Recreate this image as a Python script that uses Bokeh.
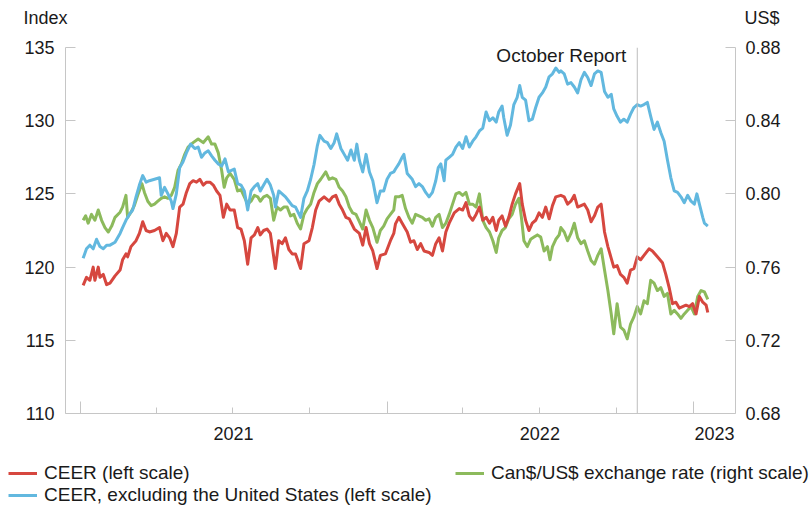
import pandas as pd
from bokeh.plotting import figure
from bokeh.layouts import column
from bokeh.models import (ColumnDataSource, Range1d, LinearAxis, FixedTicker, Span, Label,
                          Legend, LegendItem, NumeralTickFormatter)
from bokeh.embed import file_html
from bokeh.resources import INLINE

# ---------------- data ----------------
BASE = "2021-01-01"   # day offsets below are days after this date

ceer_days = [3, 7, 11, 15, 17, 21, 23, 27, 31, 35, 41, 47, 50, 54, 56, 60, 66, 70, 74, 78, 82, 88, 94, 98, 102,
             106, 110, 114, 118, 122, 126, 130, 134, 138, 142, 146, 150, 154, 158, 162, 166, 170, 174, 178,
             183, 187, 191, 195, 199, 203, 207, 211, 214, 218, 222, 226, 232, 236, 240, 244, 248, 252, 256, 262,
             266, 272, 276, 280, 284, 290, 296, 300, 304, 308, 312, 316, 320, 326, 332, 336, 340, 344, 348, 353,
             357, 363, 369, 373,
             375, 379, 383, 389, 393, 397, 401, 405, 409, 415, 419, 423, 427, 431, 435, 439, 445, 451, 455, 459,
             463, 467, 471, 475, 479, 483, 487, 491, 495, 498, 502, 506, 510, 514, 518, 523, 526, 530, 534, 538,
             542, 546, 550, 554, 558, 562, 566,
             572, 576, 580, 584, 588, 592, 596, 600, 604, 608, 612, 616, 620, 624, 628, 632, 635, 639, 643, 647,
             651, 655, 659, 663, 667, 671, 677, 681, 687, 693, 697, 701, 705, 709, 713, 717, 721, 725, 729, 733,
             737, 741, 745, 747]
ceer_vals = [118.75, 119.3, 119.1, 120.0, 119.1, 120.0, 119.3, 119.5, 118.8, 118.9, 119.4, 119.8, 120.5, 120.9,
             120.7, 121.4, 121.8, 122.3, 123.1, 122.5, 122.4, 122.5, 122.7, 121.8, 122.3, 122.0, 121.4, 122.3,
             124.1, 124.3, 125.1, 125.7, 125.9, 125.8, 126.0, 125.6, 125.8, 125.8, 125.6, 125.2, 124.9, 123.4,
             124.3, 123.9,
             123.9, 122.7, 122.6, 121.8, 120.2, 122.0, 122.2, 122.7, 122.2, 122.5, 122.6, 122.3, 119.9, 121.8,
             121.6, 122.0, 121.2, 120.9, 120.9, 119.9, 121.6, 121.8, 122.7, 123.9, 124.5, 124.8, 124.5, 124.8,
             124.9, 124.3, 123.9, 123.4, 123.3, 122.6, 122.3, 121.5, 122.7, 121.6, 121.1, 119.9, 120.8, 120.9,
             121.8, 122.3,
             122.95, 123.4, 123.0, 122.4, 121.7, 121.8, 121.2, 121.6, 121.1, 121.0, 120.8, 121.6, 122.0, 121.1,
             122.4, 123.0, 123.7, 124.0, 123.9, 124.4, 123.5, 123.2, 123.6, 124.1, 123.2, 123.4, 123.0, 123.4,
             122.5, 123.2, 123.5, 122.8, 123.4, 124.3, 125.0, 125.7, 124.3, 123.2, 122.5, 123.0, 123.2, 123.7,
             123.4, 124.1, 123.3, 124.2, 124.8,
             124.9, 124.8, 124.3, 124.5, 124.9, 124.1, 124.2, 124.3, 123.9, 123.1, 123.5, 124.1, 124.3, 122.4,
             121.4, 120.6, 120.0, 120.1, 119.5, 119.3, 118.9, 119.8, 119.9, 120.7, 120.5, 120.8, 121.25, 121.1,
             120.7, 120.3, 119.5, 118.6, 117.5, 117.6, 117.2, 117.3, 117.4, 117.3, 117.5, 116.8, 118.0, 117.6,
             117.4, 116.9]

exus_days = [3, 7, 11, 15, 19, 23, 27, 31, 35, 41, 47, 50, 54, 58, 62, 66, 70, 74, 78, 82, 88, 94, 96, 100, 104,
             108, 110, 114, 118, 122, 126, 131, 136, 140, 144, 148, 152, 156, 160, 164, 168, 172, 176,
             183, 187, 191, 195, 199, 203, 207, 211, 214, 218, 222, 226, 230, 232, 236, 240, 244, 248, 252, 256,
             262, 266, 270, 274, 278, 282, 285, 290, 294, 298, 302, 305, 310, 314, 318, 322, 326, 329, 332, 336,
             340, 344, 348, 351, 353, 357, 361, 365, 369, 373,
             375, 379, 383, 385, 389, 395, 399, 403, 407, 411, 415, 419, 423, 426, 429, 433, 435, 439, 443, 447,
             451, 455, 459, 463, 467, 471, 475, 479, 483, 487, 491, 495, 498, 502, 504, 508, 512, 516, 520, 523,
             526, 530, 534, 538, 542, 546, 550, 554, 558, 562, 566, 570,
             572, 576, 580, 584, 588, 592, 596, 600, 604, 608, 612, 616, 620, 624, 628, 632, 635, 639, 643, 647,
             651, 655, 659, 663, 667, 671, 675, 679, 683, 687, 691, 695, 699, 703, 707, 711, 715, 719, 723, 727,
             731, 734, 737, 741, 743, 747]
exus_vals = [120.6, 121.25, 121.5, 121.25, 121.9, 121.4, 121.25, 121.5, 121.5, 121.7, 122.3, 122.7, 123.2, 123.6,
             123.9, 124.8, 125.6, 126.25, 125.8, 125.9, 126.0, 126.1, 124.9, 125.45, 125.0, 124.5, 124.0, 125.0,
             126.8, 127.2, 127.8, 128.4, 128.1, 128.2, 127.5, 127.8, 127.95, 127.6, 127.3, 127.05, 126.9, 127.4,
             126.5,
             126.7, 125.7, 125.6, 125.2, 123.9, 125.2, 125.5, 125.7, 125.2, 125.6, 126.0, 125.6, 124.9, 124.1,
             125.2, 125.0, 124.8, 124.5, 124.2, 124.1, 123.4, 124.7, 125.2, 126.0, 127.0, 128.3, 129.0, 128.6,
             128.5, 128.1, 128.5, 129.1, 128.1, 127.7, 127.3, 128.0, 127.3, 128.4, 127.3, 126.5, 127.7, 126.5,
             125.9, 125.0, 124.4, 125.2, 125.2, 126.0, 126.4, 126.5,
             126.7, 127.05, 127.5, 127.7, 126.4, 126.0, 125.5, 125.7, 125.5, 125.1, 124.8, 125.1, 125.9, 126.8,
             127.05, 125.9, 127.3, 127.5, 127.7, 128.2, 128.5, 128.1, 128.9, 128.2, 128.6, 128.9, 129.3, 129.5,
             130.6, 130.0, 130.2, 129.9, 130.6, 131.0, 130.2, 129.0, 129.7, 131.1, 131.6, 132.4, 131.6, 131.4,
             130.0, 130.1, 130.9, 131.6, 131.9, 132.3, 133.0, 133.2, 133.6, 133.3,
             133.4, 133.2, 132.5, 132.6, 132.3, 131.9, 132.8, 133.3, 132.95, 132.4, 133.2, 133.4, 133.3, 132.0,
             131.6, 131.8, 130.8, 130.3, 129.9, 130.1, 129.9, 130.45, 130.9, 131.1, 131.0, 131.1, 131.25, 130.3,
             129.4, 129.9, 129.2, 128.6, 127.3, 126.1, 125.2, 125.1, 124.8, 124.4, 124.9, 124.5, 124.3, 125.0,
             124.3, 123.4, 123.0, 122.8]

cad_days = [3, 6, 9, 13, 17, 21, 25, 29, 33, 37, 41, 47, 50, 54, 56, 60, 64, 68, 73, 76, 80, 84, 88, 92, 96, 100,
            104, 108, 112, 116, 120, 124, 128, 134, 140, 146, 152, 156, 160, 164, 168, 171, 174, 178,
            183, 187, 191, 195, 199, 203, 207, 211, 214, 218, 222, 226, 230, 234, 238, 242, 246, 250, 254, 258,
            262, 266, 270, 274, 278, 282, 286, 292, 296, 300, 304, 308, 312, 316, 320, 324, 328, 332, 336, 340,
            344, 348, 353, 357, 361, 365, 369, 373,
            375, 379, 383, 387, 391, 395, 399, 403, 407, 411, 415, 419, 423, 427, 431, 435, 439, 443, 447, 451,
            455, 459, 463, 467, 471, 475, 479, 483, 487, 491, 495, 498, 502, 506, 510, 514, 518, 522, 525, 528,
            532, 536, 540, 544, 548, 552, 556, 559, 562, 566, 570,
            572, 576, 580, 584, 588, 592, 596, 600, 604, 608, 612, 616, 620, 624, 628, 632, 635, 639, 643, 647,
            651, 655, 659, 663, 667, 671, 675, 679, 683, 687, 691, 695, 699, 703, 707, 711, 715, 719, 723, 727,
            731, 735, 739, 743, 747]
cad_vals = [0.7856, 0.7880, 0.7840, 0.7888, 0.7856, 0.7912, 0.7856, 0.7816, 0.7792, 0.7824, 0.7872, 0.7900,
            0.7928, 0.7992, 0.7872, 0.7900, 0.7936, 0.7992, 0.8056, 0.8008, 0.7960, 0.7936, 0.7944, 0.7960,
            0.7976, 0.7984, 0.7976, 0.7992, 0.8036, 0.8128, 0.8164, 0.8216, 0.8256, 0.8280, 0.8300, 0.8280,
            0.8312, 0.8272, 0.8272, 0.8224, 0.8128, 0.8036, 0.8088, 0.8112,
            0.8080, 0.8016, 0.8024, 0.7984, 0.7944, 0.7960, 0.7992, 0.7984, 0.7960, 0.7984, 0.7992, 0.7976,
            0.7856, 0.7928, 0.7912, 0.7928, 0.7928, 0.7880, 0.7888, 0.7840, 0.7808, 0.7888, 0.7920, 0.7944,
            0.8008, 0.8056, 0.8080, 0.8120, 0.8080, 0.8088, 0.8080, 0.8036, 0.8016, 0.7984, 0.7928, 0.7896,
            0.7888, 0.7848, 0.7808, 0.7912, 0.7856, 0.7816, 0.7736, 0.7800, 0.7824, 0.7864, 0.7888, 0.7912,
            0.7984, 0.7984, 0.7992, 0.7920, 0.7872, 0.7840, 0.7888, 0.7880, 0.7872, 0.7856, 0.7864, 0.7824,
            0.7872, 0.7888, 0.7816, 0.7840, 0.7888, 0.7944, 0.8000, 0.8008, 0.7992, 0.8008, 0.7944, 0.7944,
            0.7928, 0.8000, 0.7856, 0.7816, 0.7792, 0.7744, 0.7680, 0.7760, 0.7800, 0.7816, 0.7864, 0.7888,
            0.7944, 0.7976, 0.7872, 0.7744, 0.7712, 0.7752, 0.7764, 0.7776, 0.7764, 0.7688, 0.7712, 0.7640,
            0.7712, 0.7752, 0.7776,
            0.7816, 0.7792, 0.7744, 0.7784, 0.7840, 0.7760, 0.7728, 0.7744, 0.7688, 0.7636, 0.7616, 0.7664,
            0.7700, 0.7584, 0.7472, 0.7344, 0.7236, 0.7400, 0.7272, 0.7256, 0.7208, 0.7288, 0.7328, 0.7384,
            0.7344, 0.7416, 0.7400, 0.7528, 0.7512, 0.7472, 0.7488, 0.7440, 0.7456, 0.7344, 0.7364, 0.7344,
            0.7320, 0.7344, 0.7364, 0.7384, 0.7344, 0.7440, 0.7472, 0.7464, 0.7424]

left_ticks = [110, 115, 120, 125, 130, 135]
right_ticks = [0.68, 0.72, 0.76, 0.80, 0.84, 0.88]
year_ticks = ["2021-01-01", "2022-01-01", "2023-01-01"]
quarter_ticks = ["2021-04-01", "2021-07-01", "2021-10-01", "2022-04-01", "2022-07-01", "2022-10-01"]
year_labels = {"2021-07-02": "2021", "2022-07-02": "2022", "2023-01-26": "2023"}
report_date = "2022-10-26"
x_start, x_end = "2020-12-14", "2023-02-20"
series_names = ["CEER (left scale)", "CEER, excluding the United States (left scale)",
                "Can$/US$ exchange rate (right scale)"]

# ---------------- styling ----------------
FONT = "Liberation Sans"
RED, BLUE, GREEN = "#d6473f", "#62b8df", "#8cba5c"
AXIS_GREY = "#c6c6c6"
TXT = "#1a1a1a"
W = 812
NAN = float("nan")


def ms(d):
    return int(pd.Timestamp(d).value // 10**6)


def to_dt(days):
    return pd.Timestamp(BASE) + pd.to_timedelta(days, unit="D")


def blank_fig(h):
    f = figure(width=W, height=h, output_backend="svg", toolbar_location=None,
               x_axis_type=None, y_axis_type=None, x_range=Range1d(0, W), y_range=Range1d(h, 0),
               min_border=0, frame_align=False)
    f.outline_line_color = None
    f.xgrid.visible = False
    f.ygrid.visible = False
    return f


# ---- top strip: unit titles ----
top = blank_fig(30)
top.add_layout(Label(x=67, y=17, text="Index", text_align="right", text_baseline="middle",
                     text_font=FONT, text_font_size="18px", text_color=TXT))
top.add_layout(Label(x=744, y=17, text="US$", text_align="left", text_baseline="middle",
                     text_font=FONT, text_font_size="18px", text_color=TXT))

# ---- main chart ----
p = figure(width=W, height=420, output_backend="svg", toolbar_location=None,
           x_axis_type=None, y_axis_type=None, frame_align=False,
           x_range=Range1d(ms(x_start), ms(x_end)), y_range=Range1d(110, 135),
           min_border_left=65, min_border_right=77, min_border_top=17, min_border_bottom=37)
p.extra_y_ranges = {"usd": Range1d(0.68, 0.88)}
p.outline_line_color = None
p.xgrid.visible = False
p.ygrid.visible = False


def style_axis(ax):
    ax.axis_line_color = AXIS_GREY
    ax.axis_line_width = 1
    ax.major_tick_line_color = AXIS_GREY
    ax.minor_tick_line_color = AXIS_GREY
    ax.major_tick_out = 0
    ax.minor_tick_out = 0
    ax.major_label_text_font = FONT
    ax.major_label_text_font_size = "18px"
    ax.major_label_text_color = TXT


yl = LinearAxis(ticker=FixedTicker(ticks=left_ticks))
style_axis(yl)
yl.major_tick_in = 10
yl.major_label_standoff = 11
p.add_layout(yl, "left")

yr = LinearAxis(y_range_name="usd", ticker=FixedTicker(ticks=right_ticks),
                formatter=NumeralTickFormatter(format="0.00"))
style_axis(yr)
yr.major_tick_in = 10
yr.major_label_standoff = 10
p.add_layout(yr, "right")

# bottom axis line with the (long) year ticks; it has no major ticks, hence no labels
xt = LinearAxis(ticker=FixedTicker(ticks=[], minor_ticks=[ms(d) for d in year_ticks]))
style_axis(xt)
xt.minor_tick_in = 12
xt.major_label_standoff = 0
p.add_layout(xt, "below")

# year labels centred in each year, plus the short quarterly ticks
xl = LinearAxis(ticker=FixedTicker(ticks=[ms(d) for d in year_labels],
                                   minor_ticks=[ms(d) for d in quarter_ticks]),
                major_label_overrides={ms(d): t for d, t in year_labels.items()})
style_axis(xl)
xl.axis_line_color = None
xl.major_tick_line_color = None
xl.minor_tick_in = 6
xl.major_label_standoff = 13
p.add_layout(xl, "below")

p.add_layout(Span(location=ms(report_date), dimension="height", line_color="#bdbdbd", line_width=1))

src_cad = ColumnDataSource(dict(x=to_dt(cad_days), y=cad_vals))
src_exus = ColumnDataSource(dict(x=to_dt(exus_days), y=exus_vals))
src_ceer = ColumnDataSource(dict(x=to_dt(ceer_days), y=ceer_vals))

p.line("x", "y", source=src_cad, y_range_name="usd", line_color=GREEN, line_width=3, line_join="round")
p.line("x", "y", source=src_exus, line_color=BLUE, line_width=3, line_join="round")
p.line("x", "y", source=src_ceer, line_color=RED, line_width=3, line_join="round")

p.add_layout(Label(x=ms(report_date), y=135, x_offset=-11, y_offset=3, text="October Report",
                   text_align="right", text_baseline="top", text_font=FONT,
                   text_font_size="19px", text_color=TXT))

# ---- legend strip (keys only; no data is drawn here) ----
lf = blank_fig(56)
k_ceer = lf.line(x=[0, 1], y=[NAN, NAN], line_color=RED, line_width=3)
k_exus = lf.line(x=[0, 1], y=[NAN, NAN], line_color=BLUE, line_width=3)
k_cad = lf.line(x=[0, 1], y=[NAN, NAN], line_color=GREEN, line_width=3)


def make_legend(items, loc):
    return Legend(items=items, location=loc, orientation="vertical", padding=0, margin=0, spacing=0,
                  border_line_color=None, background_fill_alpha=0, label_text_font=FONT,
                  label_text_font_size="19px", label_text_color=TXT, glyph_width=29, glyph_height=20,
                  label_height=20, label_standoff=7)


lf.add_layout(make_legend([LegendItem(label=series_names[0], renderers=[k_ceer]),
                           LegendItem(label=series_names[1], renderers=[k_exus])], (8, 0)))
lf.add_layout(make_legend([LegendItem(label=series_names[2], renderers=[k_cad])], (455, 22)))

layout = column(top, p, lf, spacing=0)
open("out.html", "w").write(file_html(layout, INLINE))
